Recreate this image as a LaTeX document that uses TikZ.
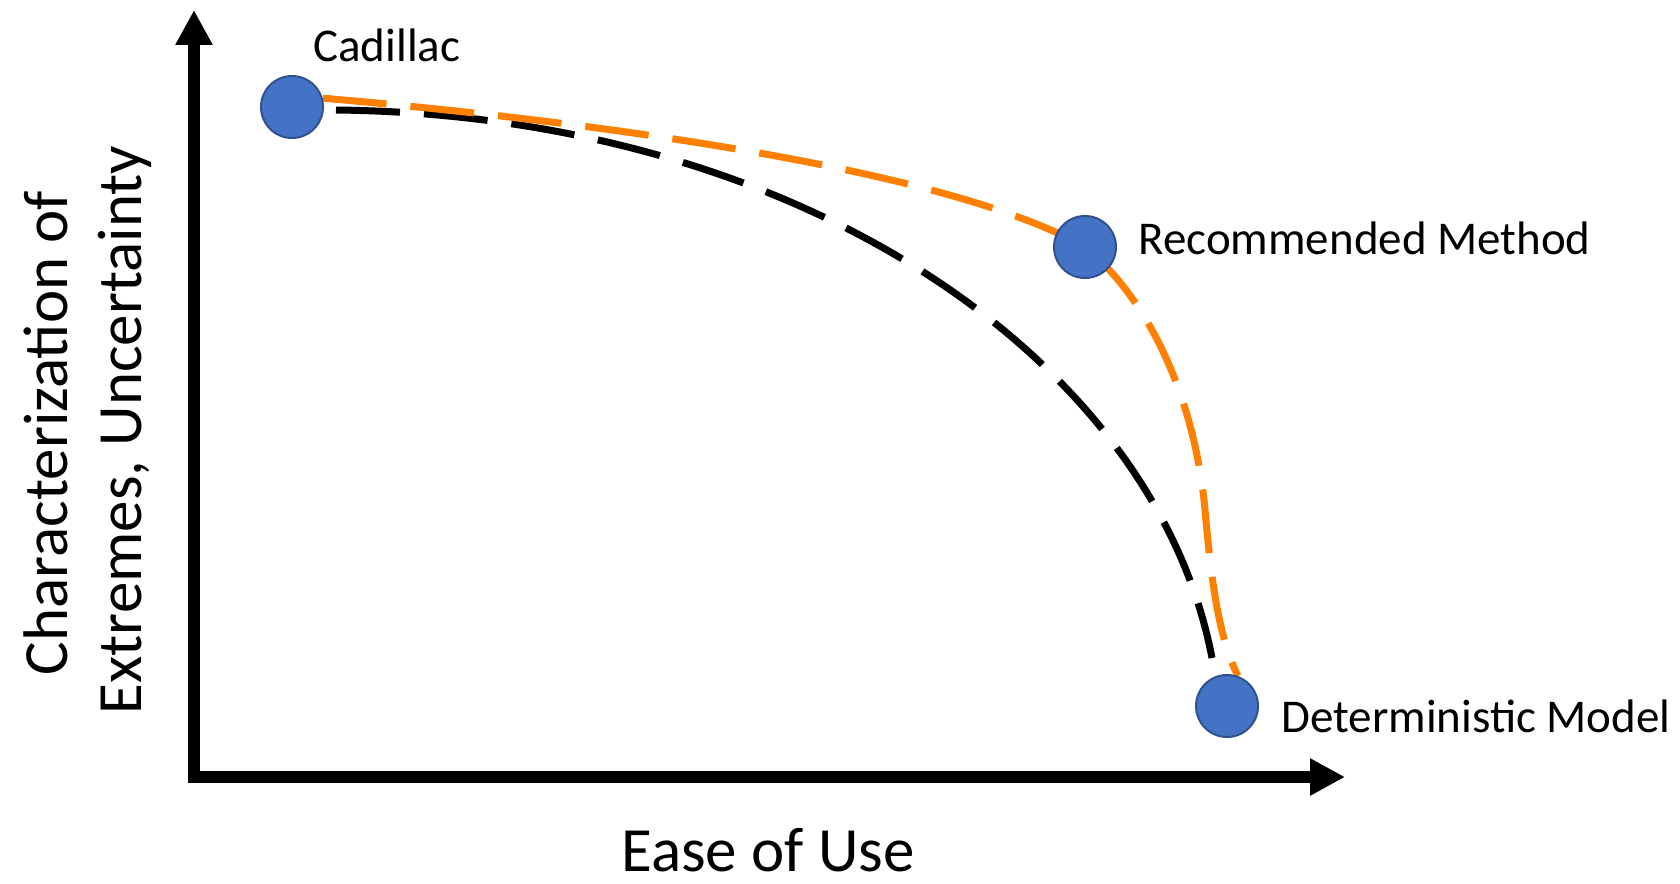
\documentclass[tikz,border=0pt]{standalone}
\usepackage{fontspec}
\setmainfont{Carlito}
\usetikzlibrary{arrows.meta,calc}
\definecolor{blueC}{HTML}{4472C4}
\definecolor{blueB}{HTML}{2F528F}
\definecolor{orangeC}{HTML}{FF8000}
\pgfdeclarelayer{bg}
\pgfsetlayers{bg,main}
\begin{document}
\begin{tikzpicture}[x=0.5pt,y=-0.5pt,
  dot/.style={circle, fill=blueC, draw=blueB, line width=1pt, minimum size=31pt, inner sep=0pt},
  lbl/.style={font=\fontsize{23.5}{28}\selectfont, inner sep=0pt, anchor=base west},
  axlbl/.style={font=\fontsize{31.5}{37}\selectfont, inner sep=0pt, anchor=base},
  axisline/.style={line width=6pt, line join=miter, {Triangle[length=17.5pt,width=17.5pt]}-{Triangle[length=17.5pt,width=17.5pt]}},
  curveline/.style={line width=3.5pt, dash pattern=on 32pt off 12pt}]
\useasboundingbox (0,0) rectangle (1680,883);
% axes
\coordinate (ytip) at (194,10);
\coordinate (O) at (194,777);
\coordinate (xtip) at (1345,777);
\draw[axisline] (ytip) -- (O) -- (xtip);
% points
\node[dot] (cad) at (292,107) {};
\node[dot] (rec) at (1085,247) {};
\node[dot] (det) at (1227,706) {};
% labels
\node[lbl] (cadl) at (313,62) {Cadillac};
\node[lbl] (recl) at (1138,254) {Recommended Method};
\node[lbl] (detl) at (1281,732) {Deterministic Model};
\node[axlbl] (xl) at (768,871) {Ease of Use};
\node[axlbl, rotate=90] (yl1) at (67,433) {Characterization of};
\node[axlbl, rotate=90] (yl2) at (141,430) {Extremes, Uncertainty};
% curves
\begin{pgfonlayer}{bg}
\draw[curveline, black] ($(cad.center)+(44,3)$) .. controls (800,115) and (1155,360) .. ($(det.center)+(-15,-48)$);
\draw[curveline, orangeC] (cad.16) .. controls (600,122) and (950,170) .. (rec.center)
   .. controls (1150,300) and (1195,400) .. (1205,510)
   .. controls (1212,590) and (1220,640) .. (det.70);
\end{pgfonlayer}
\end{tikzpicture}
\end{document}
